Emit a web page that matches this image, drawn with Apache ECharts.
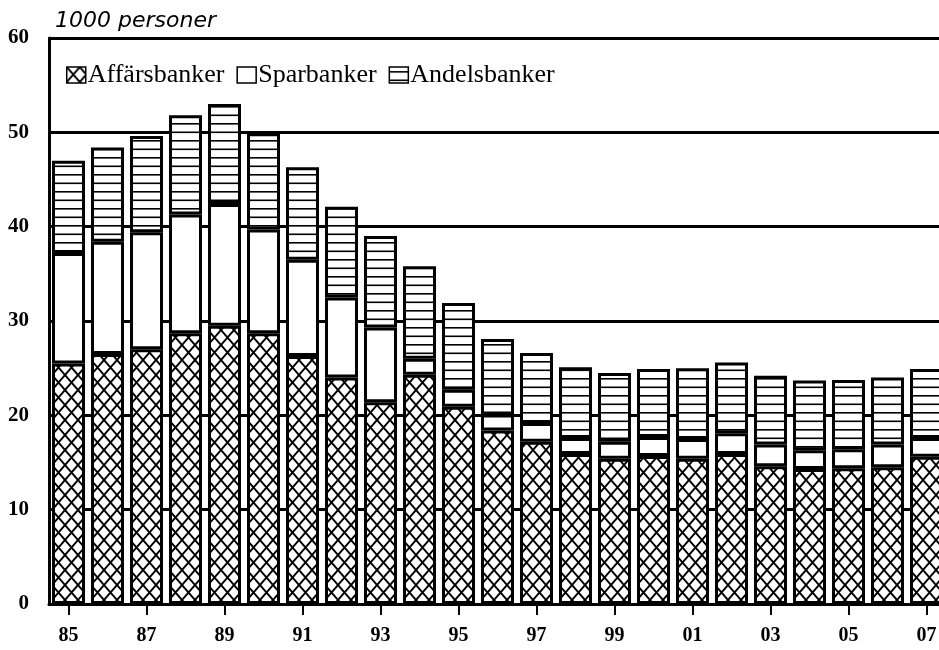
<!DOCTYPE html>
<html>
<head>
<meta charset="utf-8">
<script src="https://cdn.jsdelivr.net/npm/echarts@6/dist/echarts.min.js"></script>
<style>
  html, body { margin: 0; padding: 0; background: #fff; }
  #chart { width: 939px; height: 650px; }
</style>
</head>
<body>
<div id="chart"></div>
<script>
const years = ["85", "86", "87", "88", "89", "90", "91", "92", "93", "94", "95", "96",
  "97", "98", "99", "00", "01", "02", "03", "04", "05", "06", "07"];
// 1000 personer
const affarsbanker = [25.5, 26.5, 27.0, 28.7, 29.5, 28.7, 26.3, 24.0, 21.4, 24.3, 20.9, 18.4,
  17.2, 15.9, 15.4, 15.7, 15.4, 15.9, 14.6, 14.3, 14.4, 14.5, 15.6];
const sparbanker = [11.7, 11.9, 12.4, 12.6, 12.9, 11.0, 10.2, 8.5, 7.9, 1.7, 1.8, 1.7,
  2.0, 1.7, 1.8, 2.0, 2.1, 2.2, 2.3, 2.0, 2.0, 2.4, 2.0];
const andelsbanker = [9.8, 10.0, 10.2, 10.5, 10.6, 10.2, 9.8, 9.6, 9.7, 9.8, 9.2, 8.0,
  7.4, 7.5, 7.3, 7.2, 7.5, 7.5, 7.3, 7.4, 7.35, 7.1, 7.3];
const yTicks = [0, 10, 20, 30, 40, 50, 60];

// rutmönster för affärsbanker
const makeCross = () => {
  const w = 13, h = 15;
  const c = document.createElement("canvas");
  c.width = w;
  c.height = h;
  const ctx = c.getContext("2d");
  ctx.fillStyle = "#fff";
  ctx.fillRect(0, 0, w, h);
  ctx.strokeStyle = "#000";
  ctx.lineWidth = 1.9;
  ctx.beginPath();
  ctx.moveTo(-w, -h); ctx.lineTo(2 * w, 2 * h);
  ctx.moveTo(2 * w, -h); ctx.lineTo(-w, 2 * h);
  ctx.stroke();
  return c;
};
// horisontella linjer för andelsbanker
const makeLines = () => {
  const c = document.createElement("canvas");
  c.width = 8;
  c.height = 17;
  const ctx = c.getContext("2d");
  ctx.fillStyle = "#fff";
  ctx.fillRect(0, 0, 8, 17);
  ctx.fillStyle = "#000";
  ctx.fillRect(0, 4, 8, 1.6);
  ctx.fillRect(0, 12.5, 8, 1.6);
  return c;
};

const serif = "Liberation Serif";
const barStyle = (fill) => ({
  color: fill,
  borderColor: "#000",
  borderWidth: 3,
});

const chart = echarts.init(document.getElementById("chart"), null, { renderer: "canvas" });
const option = {
  animation: false,
  backgroundColor: "#fff",
  title: {
    text: "1000 personer",
    left: 55,
    top: 10,
    padding: 0,
    textStyle: {
      fontFamily: "DejaVu Sans",
      fontStyle: "italic",
      fontWeight: "normal",
      fontSize: 22,
      color: "#000",
    },
  },
  legend: {
    left: 66,
    top: 62,
    padding: 0,
    icon: "rect",
    itemWidth: 19,
    itemHeight: 16,
    itemGap: 12,
    selectedMode: false,
    itemStyle: { borderColor: "#000", borderWidth: 1.5 },
    textStyle: { fontFamily: serif, fontSize: 26, color: "#000", padding: [0, 0, 0, -3] },
    data: ["Affärsbanker", "Sparbanker", "Andelsbanker"],
  },
  grid: {
    left: 49,
    width: 897, // sista stapeln skärs av i högerkanten
    top: 38,
    bottom: 46,
    containLabel: false,
    outerBoundsMode: "none",
  },
  xAxis: {
    type: "category",
    data: years,
    boundaryGap: true,
    axisLine: { show: true, lineStyle: { color: "#000", width: 3 } },
    axisTick: {
      show: true,
      interval: 1,
      alignWithLabel: true,
      length: 11,
      lineStyle: { color: "#000", width: 2 },
    },
    axisLabel: {
      interval: 1,
      margin: 22,
      color: "#000",
      fontFamily: serif,
      fontWeight: "bold",
      fontSize: 20,
    },
    splitLine: { show: false },
  },
  yAxis: {
    type: "value",
    min: yTicks[0],
    max: yTicks[yTicks.length - 1],
    interval: 10,
    axisLine: { show: true, lineStyle: { color: "#000", width: 3 } },
    axisTick: { show: false },
    axisLabel: {
      margin: 20,
      color: "#000",
      fontFamily: serif,
      fontWeight: "bold",
      fontSize: 21,
    },
    splitLine: { show: true, lineStyle: { color: "#000", width: 3 } },
  },
  series: [
    {
      name: "Affärsbanker",
      type: "bar",
      stack: "total",
      barWidth: 33,
      itemStyle: barStyle({ image: makeCross(), repeat: "repeat" }),
      emphasis: { disabled: true },
      data: affarsbanker,
    },
    {
      name: "Sparbanker",
      type: "bar",
      stack: "total",
      barWidth: 33,
      itemStyle: barStyle("#fff"),
      emphasis: { disabled: true },
      data: sparbanker,
    },
    {
      name: "Andelsbanker",
      type: "bar",
      stack: "total",
      barWidth: 33,
      itemStyle: barStyle({ image: makeLines(), repeat: "repeat" }),
      emphasis: { disabled: true },
      data: andelsbanker,
    },
  ],
};
chart.setOption(option);
</script>
</body>
</html>
